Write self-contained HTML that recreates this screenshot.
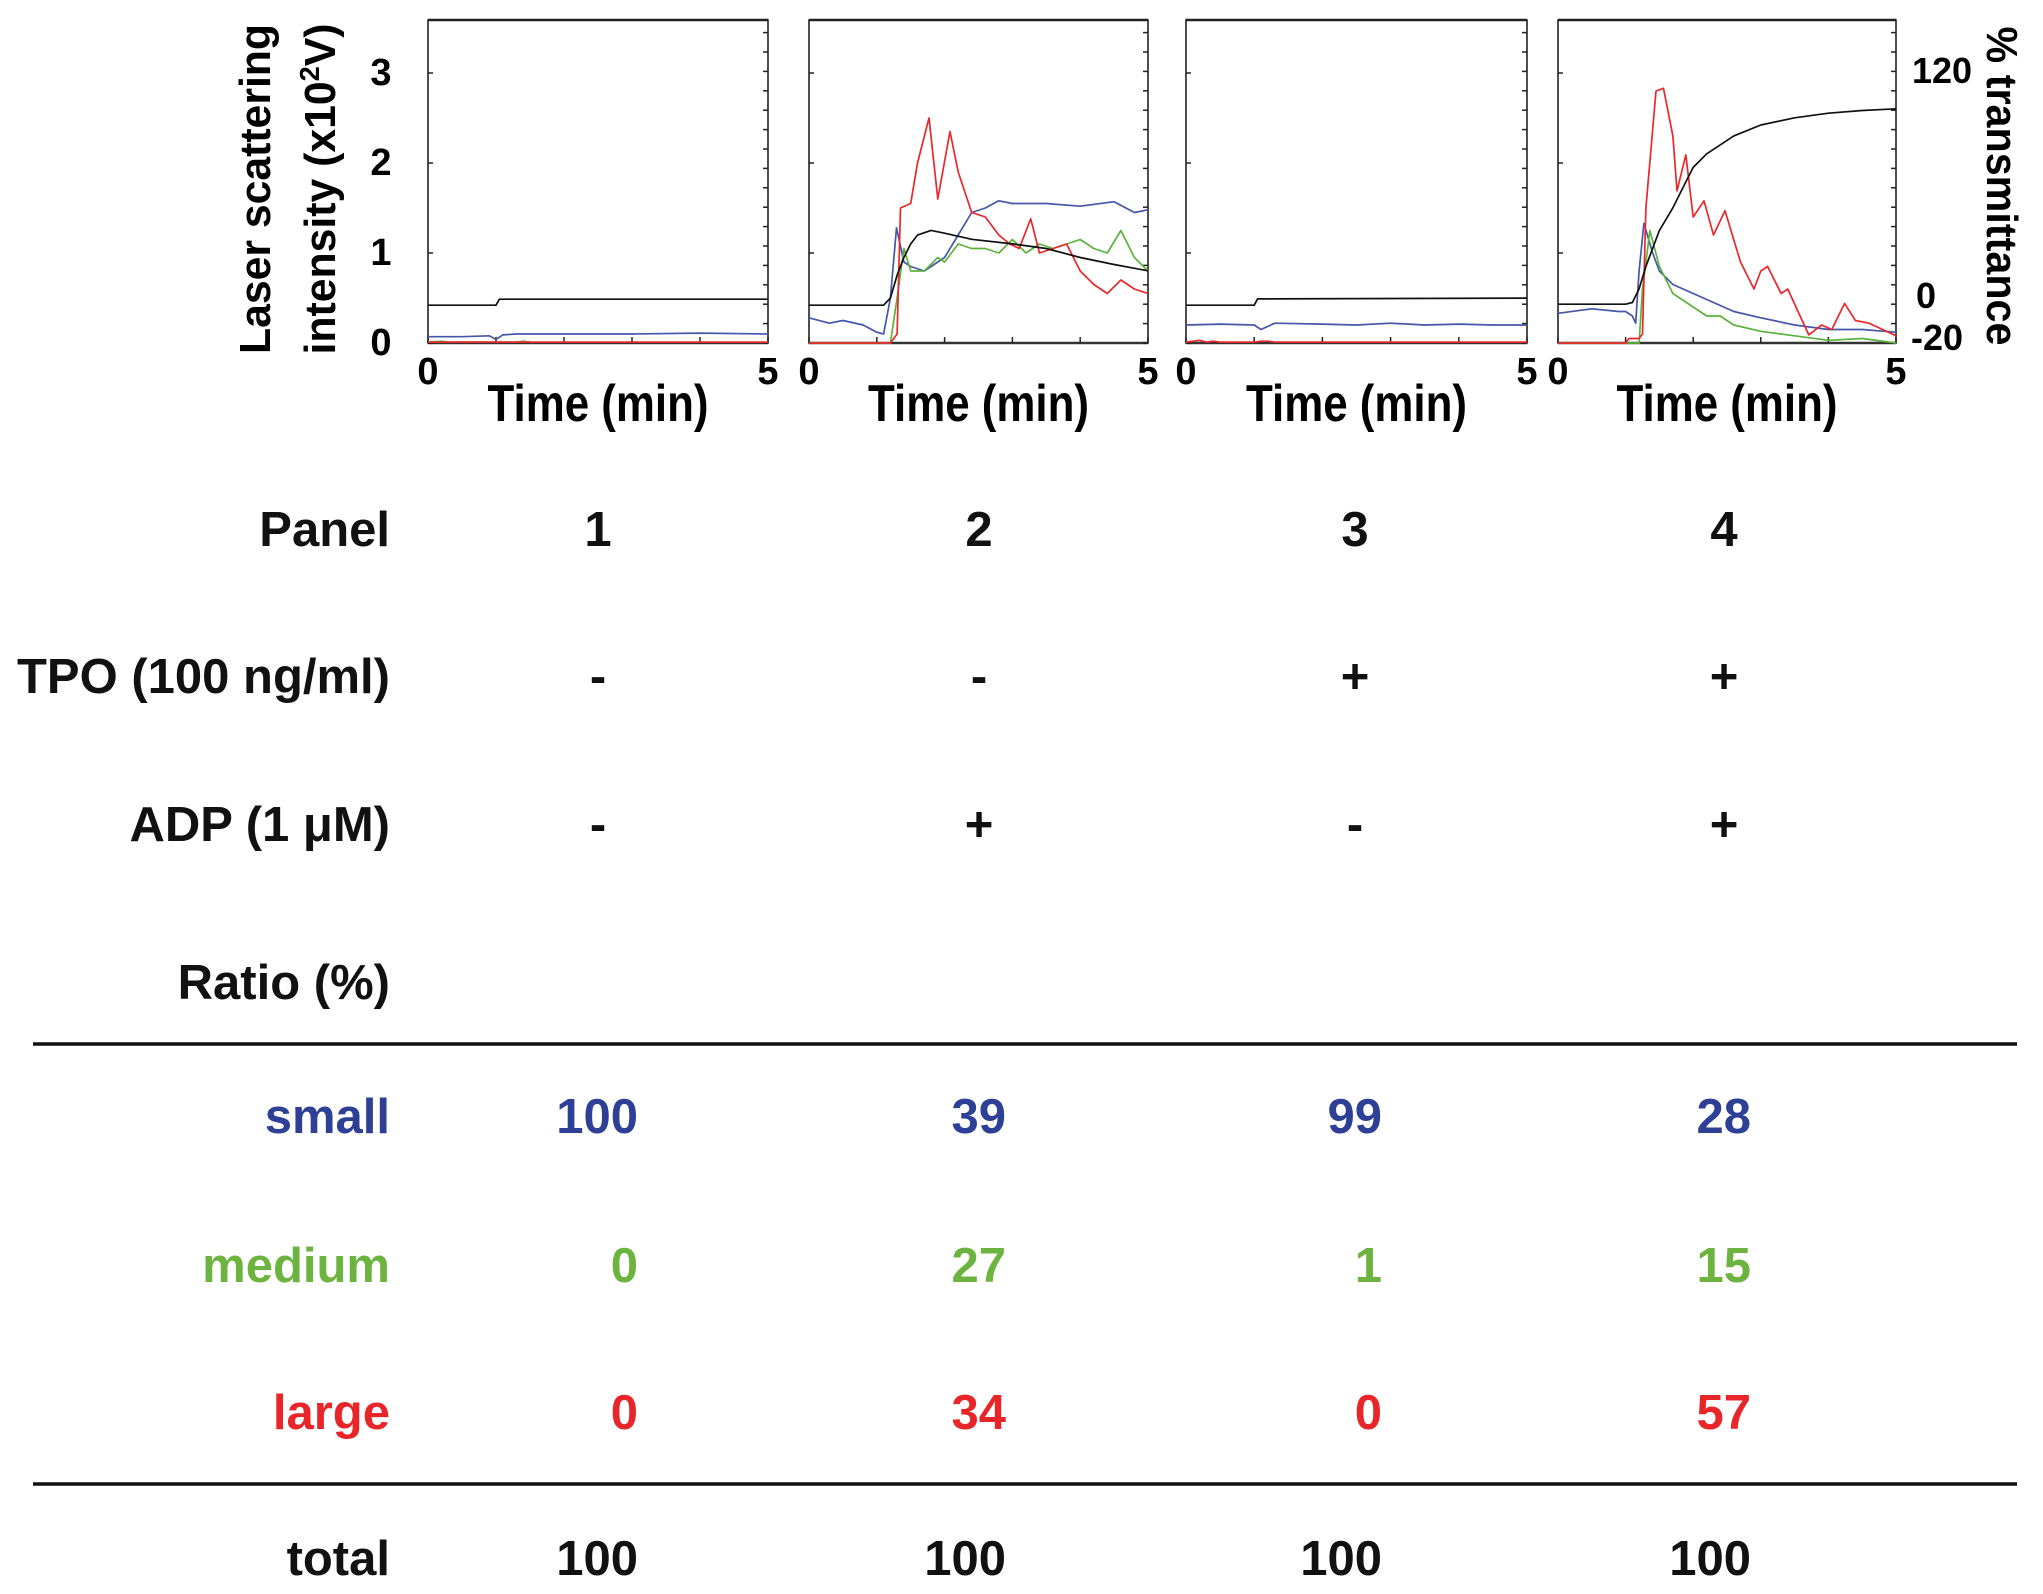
<!DOCTYPE html>
<html><head><meta charset="utf-8"><style>
html,body{margin:0;padding:0;background:#fff}
svg{display:block;font-family:"Liberation Sans",Arial,sans-serif;font-weight:bold}
</style></head><body>
<svg id="fig" width="2043" height="1594" viewBox="0 0 2043 1594" xmlns="http://www.w3.org/2000/svg">
<g id="charts"></g>
<g id="axes-text">
  <text transform="translate(270,189) rotate(-90)" text-anchor="middle" font-size="44" textLength="330" lengthAdjust="spacingAndGlyphs">Laser scattering</text>
  <text transform="translate(335,189) rotate(-90)" text-anchor="middle" font-size="44" textLength="331" lengthAdjust="spacingAndGlyphs">intensity (x10<tspan dy="-16" font-size="28">2</tspan><tspan dy="16">V)</tspan></text>
  <text transform="translate(1987,186) rotate(90)" text-anchor="middle" font-size="44" textLength="319" lengthAdjust="spacingAndGlyphs">% transmittance</text>
  <text x="1942" y="83" text-anchor="middle" font-size="36">120</text>
  <text x="1926" y="308" text-anchor="middle" font-size="36">0</text>
  <text x="1937" y="350" text-anchor="middle" font-size="36">-20</text>
</g>
<g id="table"></g>
</svg>
<script>
const panelLeft = [428, 809, 1186, 1558];
const panelRight = [768, 1148, 1527, 1896];
const plotTop = 20, plotBottom = 343;
const leftTicks = [0, 1, 2, 3];
const timeTicks = [0, 1, 2, 3, 4, 5];
const timeLabels = ["0", "5"];
// Panel 1
const p1BlueT = [0, 0.5, 0.9, 1.0, 1.1, 1.3, 2, 3, 4, 5];
const p1BlueV = [0.07, 0.07, 0.08, 0.04, 0.09, 0.1, 0.1, 0.1, 0.11, 0.1];
const p1RedT = [0, 5];
const p1RedV = [0.01, 0.01];
const p1GreenT = [0, 0.2, 0.3, 1.3, 1.4, 1.5];
const p1GreenV = [0.01, 0.02, 0.01, 0.01, 0.02, 0.01];
const p1BlackT = [0, 1.0, 1.05, 5];
const p1BlackV = [-2.7, -2.7, 0.4, 0.4];
// Panel 2
const p2RedT = [0, 1.2, 1.3, 1.35, 1.5, 1.6, 1.77, 1.9, 2.08, 2.2, 2.4, 2.6, 2.8, 2.96, 3.1, 3.27, 3.4, 3.6, 3.8, 4.0, 4.2, 4.4, 4.6, 4.8, 5.0];
const p2RedV = [0, 0, 0.1, 1.5, 1.55, 2.0, 2.5, 1.6, 2.35, 1.9, 1.45, 1.4, 1.2, 1.1, 1.05, 1.38, 1.0, 1.05, 1.1, 0.8, 0.65, 0.55, 0.7, 0.6, 0.55];
const p2BlueT = [0, 0.3, 0.5, 0.8, 1.0, 1.1, 1.2, 1.29, 1.4, 1.5, 1.7, 1.9, 2.0, 2.2, 2.4, 2.6, 2.8, 3.0, 3.5, 4.0, 4.5, 4.8, 5.0];
const p2BlueV = [0.28, 0.22, 0.25, 0.2, 0.12, 0.1, 0.5, 1.28, 0.9, 0.85, 0.8, 0.9, 0.95, 1.2, 1.45, 1.5, 1.58, 1.55, 1.55, 1.52, 1.57, 1.45, 1.48];
const p2GreenT = [0, 1.2, 1.3, 1.4, 1.5, 1.7, 1.9, 2.0, 2.2, 2.4, 2.6, 2.8, 3.0, 3.2, 3.4, 3.6, 3.8, 4.0, 4.2, 4.4, 4.6, 4.8, 5.0];
const p2GreenV = [0, 0, 0.5, 1.05, 0.8, 0.8, 0.95, 0.9, 1.1, 1.05, 1.05, 1.0, 1.15, 1.0, 1.1, 1.05, 1.1, 1.15, 1.05, 1.0, 1.25, 0.95, 0.8];
const p2BlackT = [0, 1.1, 1.2, 1.3, 1.4, 1.5, 1.6, 1.8, 2.0, 2.4, 3.0, 3.5, 4.0, 4.5, 5.0];
const p2BlackV = [-2.7, -2.7, 1, 13, 22.3, 29.4, 34, 36.5, 35, 31.8, 29.4, 27, 22.3, 18.6, 15.3];
// Panel 3
const p3BlueT = [0, 0.5, 1.0, 1.1, 1.3, 2, 2.5, 3, 3.5, 4, 4.5, 5];
const p3BlueV = [0.2, 0.21, 0.2, 0.15, 0.22, 0.21, 0.2, 0.22, 0.2, 0.21, 0.2, 0.2];
const p3RedT = [0, 0.2, 0.3, 0.4, 0.5, 1.0, 1.1, 1.2, 1.3, 5];
const p3RedV = [0.01, 0.03, 0.01, 0.02, 0.01, 0.01, 0.02, 0.02, 0.01, 0.01];
const p3BlackT = [0, 1.0, 1.05, 5];
const p3BlackV = [-2.7, -2.7, 0.6, 1.0];
// Panel 4
const p4RedT = [0, 1.0, 1.05, 1.2, 1.25, 1.3, 1.45, 1.56, 1.7, 1.76, 1.89, 2.0, 2.16, 2.3, 2.47, 2.7, 2.9, 3.0, 3.1, 3.3, 3.4, 3.55, 3.71, 3.9, 4.05, 4.24, 4.4, 4.6, 4.8, 5.0];
const p4RedV = [0, 0, 0.05, 0.05, 0.1, 1.5, 2.8, 2.83, 2.3, 1.69, 2.09, 1.4, 1.58, 1.2, 1.47, 0.9, 0.6, 0.8, 0.85, 0.55, 0.6, 0.35, 0.09, 0.2, 0.15, 0.44, 0.25, 0.22, 0.15, 0.08];
const p4BlueT = [0, 0.5, 0.9, 1.0, 1.1, 1.15, 1.2, 1.27, 1.4, 1.5, 1.7, 2.0, 2.3, 2.6, 3.0, 3.5, 4.0, 4.5, 5.0];
const p4BlueV = [0.33, 0.38, 0.35, 0.35, 0.3, 0.22, 0.8, 1.33, 1.0, 0.8, 0.65, 0.55, 0.45, 0.35, 0.28, 0.2, 0.15, 0.15, 0.12];
const p4GreenT = [0, 1.2, 1.25, 1.36, 1.5, 1.7, 2.0, 2.2, 2.4, 2.6, 3.0, 3.5, 4.0, 4.5, 5.0];
const p4GreenV = [0, 0, 0.6, 1.25, 0.85, 0.55, 0.4, 0.3, 0.3, 0.2, 0.13, 0.08, 0.03, 0.05, 0];
const p4BlackT = [0, 1.0, 1.1, 1.2, 1.3, 1.4, 1.5, 1.7, 1.9, 2.0, 2.2, 2.4, 2.6, 3.0, 3.5, 4.0, 4.5, 5.0];
const p4BlackV = [-2.2, -2.2, -1.3, 5.8, 17.6, 27, 36.5, 48.3, 62.5, 69.5, 76.6, 81.3, 86, 91.7, 95.5, 97.9, 99.3, 100.2];

const NS = "http://www.w3.org/2000/svg";
const charts = document.getElementById("charts");
function mk(tag, attrs, parent) {
  const e = document.createElementNS(NS, tag);
  for (const k in attrs) e.setAttribute(k, attrs[k]);
  parent.appendChild(e);
  return e;
}
function xScale(p, t) { return panelLeft[p] + (panelRight[p] - panelLeft[p]) * t / 5; }
function yLeft(v) { return plotBottom - 90 * v; }
function yPct(pct) { return 300 - 1.908 * pct; }
const colors = { blue: "#4656a8", red: "#e8282c", green: "#5cb33c", black: "#111" };
const panels = [
  [["green", p1GreenT, p1GreenV, 0], ["blue", p1BlueT, p1BlueV, 0], ["red", p1RedT, p1RedV, 0], ["black", p1BlackT, p1BlackV, 1]],
  [["blue", p2BlueT, p2BlueV, 0], ["green", p2GreenT, p2GreenV, 0], ["red", p2RedT, p2RedV, 0], ["black", p2BlackT, p2BlackV, 1]],
  [["blue", p3BlueT, p3BlueV, 0], ["red", p3RedT, p3RedV, 0], ["black", p3BlackT, p3BlackV, 1]],
  [["blue", p4BlueT, p4BlueV, 0], ["green", p4GreenT, p4GreenV, 0], ["red", p4RedT, p4RedV, 0], ["black", p4BlackT, p4BlackV, 1]]
];
for (let p = 0; p < 4; p++) {
  const g = mk("g", {}, charts);
  
  
  const L = panelLeft[p], R = panelRight[p];
  const frame = mk("path", { d: `M${L},${plotBottom} L${L},${plotTop} L${R},${plotTop} L${R},${plotBottom} Z`, fill: "none", stroke: "#222", "stroke-width": 1.6 }, g);
  
  
  mk("line", { x1: L, x2: R, y1: plotTop, y2: plotTop, stroke: "#222", "stroke-width": 2.5 }, g);
  mk("line", { x1: L, x2: R, y1: plotBottom, y2: plotBottom, stroke: "#333", "stroke-width": 2.5 }, g);
  leftTicks.forEach(v => mk("line", { x1: L, x2: L + 5, y1: yLeft(v), y2: yLeft(v), stroke: "#222", "stroke-width": 1.5 }, g));
  for (let pc = -20; pc <= 150; pc += 10) {
    const y = 343 - 1.94 * (pc + 20);
    if (y < plotTop) break;
    mk("line", { x1: R - 5, x2: R, y1: y, y2: y, stroke: "#222", "stroke-width": 1.5 }, g);
  }
  timeTicks.forEach(t => mk("line", { x1: xScale(p, t), x2: xScale(p, t), y1: plotBottom, y2: plotBottom - 6, stroke: "#222", "stroke-width": 1.5 }, g));
  timeLabels.forEach((lab, i) => {
    const tx = mk("text", { x: xScale(p, i * 5), y: 384, "text-anchor": "middle", "font-size": 38 }, g);
    tx.textContent = lab;
    
    
  });
  const tl = mk("text", { x: (L + R) / 2, y: 421, "text-anchor": "middle", "font-size": 52, textLength: 221, lengthAdjust: "spacingAndGlyphs" }, g);
  tl.textContent = "Time (min)";
  
  
  panels[p].forEach(s => {
    const [col, T, V, pct] = s;
    let d = "";
    T.forEach((t, i) => {
      const y = pct ? yPct(V[i]) : yLeft(V[i]);
      d += (i ? " L" : "M") + xScale(p, t).toFixed(1) + "," + y.toFixed(1);
    });
    const path = mk("path", { d: d, fill: "none", stroke: colors[col], "stroke-width": 1.7, "stroke-linejoin": "round" }, g);
    
    
  });
}
leftTicks.forEach(v => {
  const t = mk("text", { x: 381, y: yLeft(v) + 12, "text-anchor": "middle", "font-size": 38 }, charts);
  t.textContent = String(v);
  
  
});

const table = document.getElementById("table");
const rowLabels = ["Panel", "TPO (100 ng/ml)", "ADP (1 μM)", "Ratio (%)", "small", "medium", "large", "total"];
const rowBase = [546, 693, 841, 999, 1133, 1282, 1429, 1575];
const rowColors = ["#111", "#111", "#111", "#111", "#2e3f96", "#6cb33f", "#e8262a", "#111"];
const centerCols = [598, 979, 1355, 1724];
const rightCols = [638, 1006, 1382, 1751];
const panelRow = ["1", "2", "3", "4"];
const tpoRow = ["-", "-", "+", "+"];
const adpRow = ["-", "+", "-", "+"];
const smallRow = [100, 39, 99, 28];
const mediumRow = [0, 27, 1, 15];
const largeRow = [0, 34, 0, 57];
const totalRow = [100, 100, 100, 100];
rowLabels.forEach((lab, i) => {
  const t = mk("text", { x: 390, y: rowBase[i], "text-anchor": "end", "font-size": 49, fill: rowColors[i] }, table);
  t.textContent = lab;
  
  
});
[[panelRow, 0], [tpoRow, 1], [adpRow, 2]].forEach(([arr, r]) => {
  arr.forEach((v, c) => {
    const t = mk("text", { x: centerCols[c], y: rowBase[r], "text-anchor": "middle", "font-size": 49, fill: "#111" }, table);
    t.textContent = v;
    
    
  });
});
[[smallRow, 4], [mediumRow, 5], [largeRow, 6], [totalRow, 7]].forEach(([arr, r]) => {
  arr.forEach((v, c) => {
    const t = mk("text", { x: rightCols[c], y: rowBase[r], "text-anchor": "end", "font-size": 49, fill: rowColors[r] }, table);
    t.textContent = String(v);
    
    
  });
});
[1044, 1484].forEach(y => {
  const l = mk("line", { x1: 33, x2: 2017, y1: y, y2: y, stroke: "#111", "stroke-width": 3.5 }, table);
  
  
});
</script>
</body></html>
